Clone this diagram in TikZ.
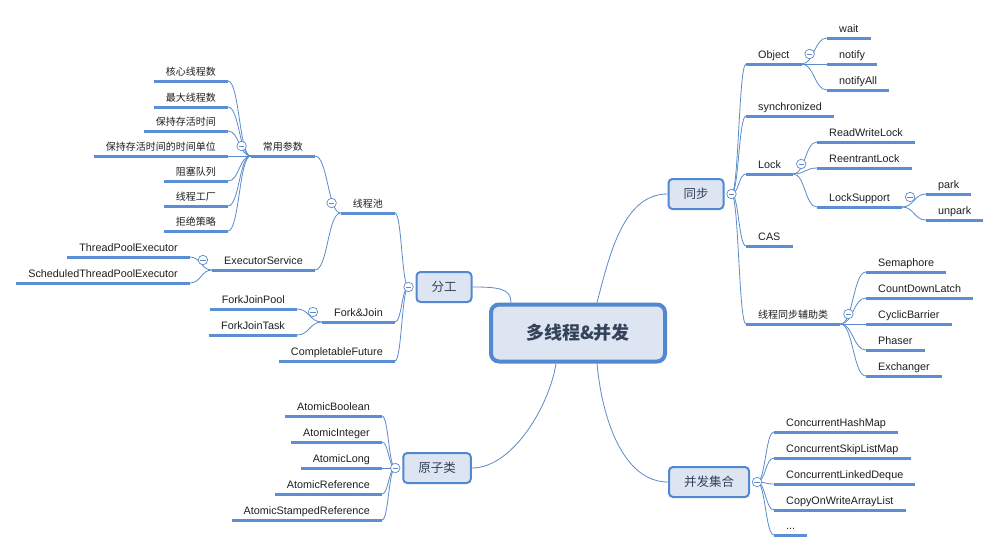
\documentclass[tikz,border=0pt]{standalone}
\usepackage{fontspec}
\setmainfont{Liberation Sans}
\newfontfamily\cjk{Noto Sans CJK SC}
\usepackage{tikz}
\usetikzlibrary{calc}

\definecolor{linkc}{HTML}{5B8BC9}
\definecolor{ulc}{HTML}{5A8FD6}
\definecolor{boxf}{HTML}{DCE5F1}
\definecolor{boxc}{HTML}{5288CF}
\definecolor{boxt}{HTML}{34425A}
\definecolor{txt}{HTML}{1E1E1E}

% curved branch from a parent point to a child point
\newcommand{\branch}[2]{%
  \draw[link] let \p1=(#1), \p2=(#2) in
    (\p1) .. controls ({(\x1+\x2)/2},\y1) and ({(\x1+\x2)/2},\y2) .. (\p2);}

\begin{document}
\begin{tikzpicture}[x=1pt, y=-1pt,
  link/.style={draw=linkc, line width=0.8pt},
  uline/.style={draw=ulc, line width=3pt},
  leaf/.style={inner xsep=12pt, inner ysep=3pt, text height=8pt, text depth=2.5pt,
    font=\fontsize{10.8}{12}\selectfont, text=txt},
  zh/.style={font=\cjk\fontsize{10}{12}\selectfont},
  lf/.style={leaf, anchor=south east},
  rt/.style={leaf, anchor=south west},
  main/.style={draw=boxc, fill=boxf, line width=2pt, rounded corners=4pt,
    inner xsep=15pt, minimum height=30pt, text=boxt,
    font=\cjk\fontsize{12.5}{14}\selectfont},
  central/.style={main, line width=4pt, rounded corners=8pt,
    minimum width=174pt, minimum height=57pt,
    font=\cjk\bfseries\fontsize{18}{20}\selectfont},
  fold/.style={circle, draw=linkc, fill=white, line width=0.7pt, inner sep=0pt,
    minimum size=9.5pt,
    path picture={\draw[linkc, line width=0.7pt]
      ([xshift=-2.6pt]path picture bounding box.center) --
      ([xshift=2.6pt]path picture bounding box.center);}}
]
  \useasboundingbox (0,0) rectangle (1001,552);

  % main topics
  \node[central] (dxc) at (578,333) {多线程\&并发};
  \node[main] (fengong) at (444,287) {分工};
  \node[main] (tongbu)  at (696,194) {同步};
  \node[main] (yuanzi)  at (437,468) {原子类};
  \node[main] (jihe)    at (709,482) {并发集合};

  % 分工
  \node[lf, zh] (pool)     at (395,213) {线程池};
  \node[lf]     (forkjoin) at (395,322) {Fork\&Join};
  \node[lf]     (cfuture)  at (395,361) {CompletableFuture};
  \node[lf, zh] (params)   at (315,156) {常用参数};
  \node[lf]     (exec)     at (315,270) {ExecutorService};
  \foreach \n/\y/\lab in {p1/81/核心线程数, p2/107/最大线程数, p3/131/保持存活时间,
      p4/156/保持存活时间的时间单位, p5/181/阻塞队列, p6/206/线程工厂, p7/231/拒绝策略}
    \node[lf, zh] (\n) at (228,\y) {\lab};
  \node[lf] (tpe)    at (190,257) {ThreadPoolExecutor};
  \node[lf] (stpe)   at (190,283) {ScheduledThreadPoolExecutor};
  \node[lf] (fjpool) at (297,309) {ForkJoinPool};
  \node[lf] (fjtask) at (297,335) {ForkJoinTask};

  % 原子类
  \foreach \n/\y/\lab in {abool/416/AtomicBoolean, aint/442/AtomicInteger,
      along/468/AtomicLong, aref/494/AtomicReference, astamp/520/AtomicStampedReference}
    \node[lf] (\n) at (382,\y) {\lab};

  % 同步
  \node[rt]     (obj)    at (746,64)  {Object};
  \node[rt]     (sync)   at (746,116) {synchronized};
  \node[rt]     (lock)   at (746,174) {Lock};
  \node[rt]     (cas)    at (746,246) {CAS};
  \node[rt, zh] (helper) at (746,324) {线程同步辅助类};
  \foreach \n/\y/\lab in {wait/38/wait, notify/64/notify, notifyall/90/notifyAll}
    \node[rt] (\n) at (827,\y) {\lab};
  \node[rt] (rwlock)   at (817,142) {ReadWriteLock};
  \node[rt] (relock)   at (817,168) {ReentrantLock};
  \node[rt] (lsupport) at (817,207) {LockSupport};
  \node[rt] (park)     at (926,194) {park};
  \node[rt] (unpark)   at (926,220) {unpark};
  \foreach \n/\y/\lab in {sema/272/Semaphore, cdl/298/CountDownLatch,
      cb/324/CyclicBarrier, phaser/350/Phaser, exch/376/Exchanger}
    \node[rt] (\n) at (866,\y) {\lab};

  % 并发集合
  \foreach \n/\y/\lab in {chm/432/ConcurrentHashMap, cslm/458/ConcurrentSkipListMap,
      cld/484/ConcurrentLinkedDeque, cow/510/CopyOnWriteArrayList}
    \node[rt] (\n) at (774,\y) {\lab};
  \node[rt] (etc) at (774,535) {...};

  % fold points of the boxes
  \coordinate (k-fengong) at ($(fengong.west)+(-7,0)$);
  \coordinate (k-yuanzi)  at ($(yuanzi.west)+(-7,0)$);
  \coordinate (k-tongbu)  at ($(tongbu.east)+(7,0)$);
  \coordinate (k-jihe)    at ($(jihe.east)+(7,0)$);

  % root connectors
  \coordinate (r-fengong) at ($(dxc.north west)+(22,0)$);
  \coordinate (r-tongbu)  at ($(dxc.north)+(19,0)$);
  \coordinate (r-yuanzi)  at ($(dxc.south)+(-22,0)$);
  \coordinate (r-jihe)    at ($(dxc.south)+(19,0)$);
  \draw[link] (fengong.east) .. controls +(26,0) and +(0,-14) .. (r-fengong);
  \draw[link] (r-tongbu) .. controls +(12,-45) and +(-45,0) .. (tongbu.west);
  \draw[link] (yuanzi.east) .. controls +(42,0) and +(-6,40) .. (r-yuanzi);
  \draw[link] (r-jihe) .. controls +(5,55) and +(-45,0) .. (jihe.west);

  % branches
  \foreach \c in {pool, forkjoin, cfuture} \branch{k-fengong}{\c.south east};
  \foreach \c in {params, exec} \branch{pool.south west}{\c.south east};
  \foreach \c in {p1,p2,p3,p4,p5,p6,p7} \branch{params.south west}{\c.south east};
  \foreach \c in {tpe, stpe} \branch{exec.south west}{\c.south east};
  \foreach \c in {fjpool, fjtask} \branch{forkjoin.south west}{\c.south east};
  \foreach \c in {abool, aint, along, aref, astamp} \branch{k-yuanzi}{\c.south east};
  \foreach \c in {obj, sync, lock, cas, helper} \branch{k-tongbu}{\c.south west};
  \foreach \c in {wait, notify, notifyall} \branch{obj.south east}{\c.south west};
  \foreach \c in {rwlock, relock, lsupport} \branch{lock.south east}{\c.south west};
  \foreach \c in {park, unpark} \branch{lsupport.south east}{\c.south west};
  \foreach \c in {sema, cdl, cb, phaser, exch} \branch{helper.south east}{\c.south west};
  \foreach \c in {chm, cslm, cld, cow, etc} \branch{k-jihe}{\c.south west};

  % underlines
  \foreach \n in {pool, forkjoin, cfuture, params, exec, p1, p2, p3, p4, p5, p6, p7,
      tpe, stpe, fjpool, fjtask, abool, aint, along, aref, astamp,
      obj, sync, lock, cas, helper, wait, notify, notifyall, rwlock, relock, lsupport,
      park, unpark, sema, cdl, cb, phaser, exch, chm, cslm, cld, cow, etc}
    \draw[uline] (\n.south west) -- (\n.south east);

  % fold marks
  \foreach \k in {fengong, yuanzi, tongbu, jihe}
    \node[fold] (f-\k) at (k-\k) {};
  \foreach \n in {pool, params, exec, forkjoin}
    \node[fold] (f-\n) at ($(\n.south west)+(-9,-10)$) {};
  \foreach \n in {obj, lock, lsupport, helper}
    \node[fold] (f-\n) at ($(\n.south east)+(8,-10)$) {};
\end{tikzpicture}
\end{document}
